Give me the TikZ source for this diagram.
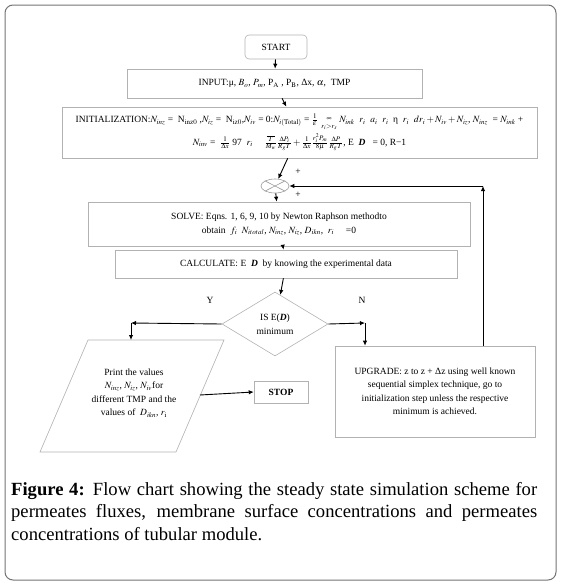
\documentclass[tikz,border=0pt]{standalone}
\usepackage{mathptmx}
\usepackage{fontspec}
\setmainfont{Liberation Serif}
\usetikzlibrary{arrows.meta,shapes.geometric}

\tikzset{
  flowbox/.style={draw=black!30, line width=0.6pt, align=center, inner sep=2pt, font=\fontsize{9.5}{13.5}\selectfont},
  flowarrow/.style={-{Latex[length=5pt,width=4.5pt]}, line width=0.9pt},
  flowlabel/.style={font=\fontsize{9.5}{12}\selectfont},
}

\begin{document}
\begin{tikzpicture}[x=1pt, y=-1pt]
			%%%%% START %%%%%
			\useasboundingbox (0,0) rectangle (560,584);
			\draw[black!55, line width=1pt, rounded corners=8pt] (5,5) rectangle (556,580);
			
			\node[flowbox, rounded corners=4pt, minimum width=62pt, minimum height=24pt] (start) at (276,47) {START};
			\node[flowbox, minimum width=295pt, minimum height=29pt] (input) at (274.5,83.5)
				{INPUT:μ, $B_o$, $P_m$, P$_{\mathrm{A}}$ , P$_{\mathrm{B}}$, Δx, $\alpha$,\ \ TMP};
			\node[flowbox, minimum width=475pt, minimum height=51pt] (init) at (299.5,132.5)
				{INITIALIZATION:$N_{inz}$ = \ N$_{\mathrm{inz0}}$ ,$N_{iz}$ = \ N$_{\mathrm{iz0}}$,$N_{iv}$ = 0:$N_{i(\mathrm{Total})}$ = $\frac{1}{\varepsilon}\ \mathop{\kern0pt}\limits^{\infty}_{r_i>r_s}$ $N_{ink}$ \ $r_i$ \ $a_i$ \ $r_i$ \ η \ $r_i$ \ $dr_i+N_{iv}+N_{iz}$, $N_{inz}$ \ = $N_{ink}$ +\\[2pt]
				$N_{inv}$ = \ $\frac{1}{\Delta x}$ 97 \ $r_i$ \quad $\frac{\overline{\;T\;}}{M_w}\frac{\Delta P_i}{R_g T}+\frac{1}{\Delta x}\frac{r_i^2 P_m}{8\mu}\frac{\Delta P}{R_g T}$, E \ \textbf{\textit{D}} \ \ = 0, R−1};
			
			\node[draw=black!40, line width=0.6pt, ellipse, minimum width=28pt, minimum height=14pt, inner sep=0pt] (mix) at (275,186) {};
			\draw[black!40, line width=0.6pt] (mix.north west) -- (mix.south east);
			\draw[black!40, line width=0.6pt] (mix.north east) -- (mix.south west);
			\node[flowlabel] (plustop) at (298,172) {+};
			\node[flowlabel] (plusbot) at (298,195) {+};
			
			\node[flowbox, minimum width=382pt, minimum height=44pt] (solve) at (279,224)
				{SOLVE: Eqns. 1, 6, 9, 10 by Newton Raphson methodto\\
				obtain \ $f_i$ \ $N_{itotal}$, $N_{inz}$, $N_{iz}$, $D_{ikn}$, \ $r_i$ \quad =0};
			\node[flowbox, minimum width=342pt, minimum height=28pt] (calc) at (286,264)
				{CALCULATE: E \ \textbf{\textit{D}} \ by knowing the experimental data};
			\node[flowbox, diamond, minimum width=106pt, minimum height=64pt, inner sep=0pt] (test) at (275,324)
				{IS E(\textbf{\textit{D}})\\minimum};
			\node[flowlabel] (yes) at (210,300) {Y};
			\node[flowlabel] (no) at (362,300) {N};
			
			% output parallelogram
			\draw[black!30, line width=0.6pt] (88,340) -- (224,340) -- (176,452) -- (40,452) -- cycle;
			\node[flowbox, draw=none] (print) at (134,393)
				{Print the values\\ $N_{inz}$, $N_{iz}$, $N_{iv}$for\\ different TMP and the\\ values of \ $D_{ikn}$, $r_{\mathrm{i}}$};
			\coordinate (printtop) at (131,340);
			\coordinate (printright) at (200,395);
			
			\node[flowbox, minimum width=54pt, minimum height=22pt] (stop) at (281,392) {\textbf{STOP}};
			\node[flowbox, minimum width=200pt, minimum height=91pt] (upgrade) at (435,391.5)
				{UPGRADE: z to z + Δz using well known\\ sequential simplex technique, go to\\ initialization step unless the respective\\ minimum is achieved.};
			
			\draw[flowarrow] (start) -- (input);
			\draw[flowarrow] (input) -- (init);
			\draw[flowarrow] (init) -- (mix);
			\draw[flowarrow] (mix) -- (solve);
			\draw[flowarrow] (solve) -- (calc);
			\draw[flowarrow] (calc) -- (test);
			
			\coordinate (yleft) at (131,323);
			\coordinate (nright) at (365,323);
			\draw[flowarrow] (test.west) -- (yleft);
			\draw[flowarrow] (yleft) -- (printtop);
			\draw[flowarrow] (test.east) -- (nright);
			\draw[flowarrow] (nright) -- (upgrade.north -| nright);
			\draw[flowarrow] (printright) -- (stop.west);
			
			\coordinate (loop) at (483,186);
			\draw[flowarrow] (upgrade.north -| loop) -- (loop);
			\draw[flowarrow] (loop) -- (mix.east);
			
			\node[anchor=north west, inner sep=0pt, text width=526pt, align=justify, font=\fontsize{18.6}{22.6}\selectfont] (caption) at (11,482)
				{\textbf{Figure 4:} Flow chart showing the steady state simulation scheme for\linebreak
				permeates fluxes, membrane surface concentrations and permeates\linebreak
				concentrations of tubular module.};
			%%%%% END %%%%%
\end{tikzpicture}
\end{document}
